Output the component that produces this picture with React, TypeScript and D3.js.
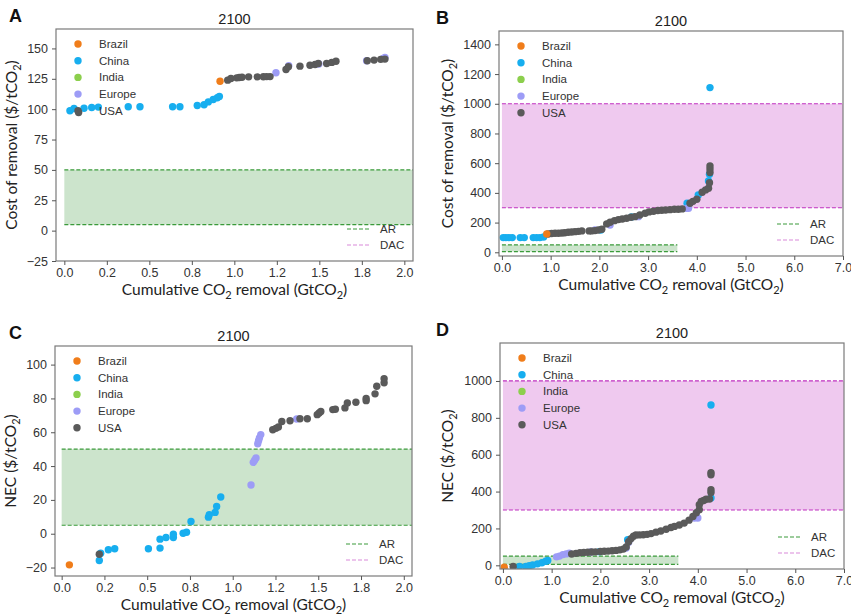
import React, { useEffect, useRef } from 'react';
import * as d3 from 'd3';

type Pt = [number, number];

const countries = ['Brazil', 'China', 'India', 'Europe', 'USA'];
const countryColors = ['#f07d1a', '#17aeef', '#8ccf4d', '#9d9cf6', '#5a5a5a'];

// A: cost of removal, 0-2 GtCO2
const brazilA: Pt[] = [[0.916, 123]];
const chinaA: Pt[] = [
  [0.033, 98.7], [0.057, 100.6], [0.116, 100.8], [0.161, 101.4], [0.2, 101.7], [0.376, 102],
  [0.445, 102], [0.637, 102], [0.68, 102], [0.782, 103], [0.822, 103.6], [0.847, 106],
  [0.876, 108], [0.9, 109.4], [0.912, 110.5],
];
const indiaA: Pt[] = [];
const europeA: Pt[] = [[1.245, 130], [1.32, 135.8], [1.497, 137.2], [1.778, 139.8], [1.876, 141.8], [1.886, 142.6]];
const usaA: Pt[] = [
  [0.084, 97.3], [0.961, 123.9], [0.98, 125.3], [1.014, 125.8], [1.029, 126.1], [1.045, 126.3],
  [1.084, 126.6], [1.135, 126.6], [1.171, 126.7], [1.19, 126.8], [1.21, 126.8], [1.304, 132.7],
  [1.318, 134.9], [1.386, 135.4], [1.445, 136.2], [1.475, 136.8], [1.494, 137.6], [1.543, 137.6],
  [1.573, 138.5], [1.598, 139.5], [1.782, 139.8], [1.822, 140.4], [1.861, 141], [1.886, 141.2],
];

// B: cost of removal, 0-7 GtCO2
const brazilB: Pt[] = [[0.92, 123]];
const chinaB: Pt[] = [
  [0.027, 98.8], [0.082, 98.8], [0.144, 98.8], [0.212, 98.8], [0.376, 98.8], [0.459, 98.8],
  [0.643, 98.8], [0.712, 98.8], [0.78, 98.8], [0.856, 103], [2.03, 150], [2.66, 238],
  [3.8, 330], [4.03, 386], [4.24, 480], [4.26, 525], [4.27, 1109],
];
const indiaB: Pt[] = [];
const europeB: Pt[] = [[1.91, 150], [2.22, 184], [2.8, 240], [3.79, 296], [3.83, 296]];
const usaB: Pt[] = [
  [0.95, 123], [1.02, 126], [1.09, 128], [1.16, 128], [1.23, 130], [1.29, 132], [1.36, 135],
  [1.43, 137], [1.5, 139], [1.57, 141], [1.64, 144], [1.79, 144], [1.84, 144], [1.91, 146],
  [1.98, 150], [2.05, 155], [2.15, 191], [2.22, 202], [2.31, 213], [2.39, 220], [2.47, 224],
  [2.56, 229], [2.65, 236], [2.73, 240], [2.83, 251], [2.94, 263], [3.02, 272], [3.11, 276],
  [3.2, 281], [3.28, 283], [3.36, 285], [3.45, 287], [3.54, 290], [3.62, 290], [3.7, 292],
  [3.86, 330], [3.92, 343], [4.0, 357], [4.11, 404], [4.18, 420], [4.24, 431], [4.26, 469],
  [4.27, 537], [4.27, 560], [4.27, 581],
];

// C: NEC, 0-2 GtCO2
const brazilC: Pt[] = [[0.045, -18.4]];
const chinaC: Pt[] = [
  [0.22, -15.8], [0.228, -11.5], [0.273, -9.5], [0.31, -8.9], [0.507, -8.9], [0.575, -8.5],
  [0.575, -3.2], [0.61, -2.2], [0.653, -2.2], [0.653, -0.3], [0.71, 0.3], [0.73, 0.9],
  [0.756, 7.2], [0.858, 9.8], [0.863, 11.2], [0.897, 12.6], [0.906, 16.1], [0.93, 21.7],
];
const indiaC: Pt[] = [];
const europeC: Pt[] = [
  [1.107, 28.8], [1.12, 42.2], [1.128, 43.5], [1.136, 44.8], [1.146, 53.2], [1.151, 55],
  [1.156, 56.6], [1.164, 58.6], [1.374, 67.8],
];
const usaC: Pt[] = [
  [0.22, -12.1], [1.234, 61.5], [1.252, 62.3], [1.267, 63.1], [1.287, 66.4], [1.335, 66.8],
  [1.393, 68], [1.436, 68], [1.494, 70.4], [1.505, 71.4], [1.515, 72.3], [1.585, 73.4],
  [1.6, 73.6], [1.656, 74.4], [1.67, 77.3], [1.72, 77.7], [1.78, 78.7], [1.78, 80],
  [1.832, 82.7], [1.842, 87.2], [1.885, 89.2], [1.885, 91.7],
];

// D: NEC, 0-7 GtCO2
const brazilD: Pt[] = [[0.027, -10]];
const chinaD: Pt[] = [
  [0.34, -6], [0.47, -6], [0.54, -2], [0.61, 2], [0.71, 8], [0.8, 14], [0.88, 22], [0.92, 26],
  [1.98, 74], [2.56, 139], [4.27, 365], [4.27, 870],
];
const indiaD: Pt[] = [];
const europeD: Pt[] = [
  [1.1, 46], [1.16, 50], [1.23, 58], [1.3, 62], [1.36, 66], [1.8, 72], [2.53, 94], [2.58, 125],
  [3.93, 256], [4.0, 257],
];
const usaD: Pt[] = [
  [0.21, -6], [1.41, 61], [1.5, 65], [1.58, 68], [1.66, 70], [1.74, 71], [1.82, 72], [1.9, 73],
  [2.0, 75], [2.08, 76], [2.16, 77], [2.24, 79], [2.32, 81], [2.4, 84], [2.47, 88], [2.53, 99],
  [2.58, 128], [2.63, 145], [2.68, 158], [2.73, 165], [2.8, 165], [2.88, 166], [2.96, 168],
  [3.04, 172], [3.14, 180], [3.24, 186], [3.35, 196], [3.45, 205], [3.52, 211], [3.62, 219],
  [3.72, 229], [3.82, 245], [3.9, 265], [3.97, 285], [4.03, 302], [4.03, 329], [4.07, 347],
  [4.12, 352], [4.17, 358], [4.24, 360], [4.27, 395], [4.27, 410], [4.27, 491], [4.27, 503],
];

const xTicksShort = [0, 0.25, 0.5, 0.75, 1, 1.25, 1.5, 1.75, 2];
const xTickLabelsShort = ['0.0', '0.2', '0.5', '0.8', '1.0', '1.2', '1.5', '1.8', '2.0'];
const xTicksLong = [0, 1, 2, 3, 4, 5, 6, 7];
const xTickLabelsLong = ['0.0', '1.0', '2.0', '3.0', '4.0', '5.0', '6.0', '7.0'];
const yTicksA = [-25, 0, 25, 50, 75, 100, 125, 150];
const yTicksB = [0, 200, 400, 600, 800, 1000, 1200, 1400];
const yTicksC = [-20, 0, 20, 40, 60, 80, 100];
const yTicksD = [0, 200, 400, 600, 800, 1000];

const arRange = [5, 50];
const arSpan = [0, 3.6];
const dacRange = [300, 1000];
const dacSpan = [0, 7.5];
const bandNames = ['AR', 'DAC'];

const panels = [
  { letter: 'A', left: 56, top: 29, right: 413, bottom: 261, xd: [-0.049, 2.051], yd: [-25, 166],
    xt: xTicksShort, xl: xTickLabelsShort, yt: yTicksA, ylab: 'Cost of removal ($/tCO', ylx: 39,
    series: [brazilA, chinaA, indiaA, europeA, usaA] },
  { letter: 'B', left: 499, top: 31, right: 843, bottom: 256, xd: [-0.06, 7.0], yd: [-25, 1490],
    xt: xTicksLong, xl: xTickLabelsLong, yt: yTicksB, ylab: 'Cost of removal ($/tCO', ylx: 46,
    series: [brazilB, chinaB, indiaB, europeB, usaB] },
  { letter: 'C', left: 55, top: 346, right: 412, bottom: 576, xd: [-0.039, 2.048], yd: [-25, 111],
    xt: xTicksShort, xl: xTickLabelsShort, yt: yTicksC, ylab: 'NEC ($/tCO', ylx: 39,
    series: [brazilC, chinaC, indiaC, europeC, usaC] },
  { letter: 'D', left: 500, top: 343, right: 844, bottom: 569, xd: [-0.06, 7.0], yd: [-20, 1206],
    xt: xTicksLong, xl: xTickLabelsLong, yt: yTicksD, ylab: 'NEC ($/tCO', ylx: 47,
    series: [brazilD, chinaD, indiaD, europeD, usaD] },
];

const drawOrder = [1, 3, 2, 4, 0];

const App: React.FC = () => {
  const svgRef = useRef<SVGSVGElement>(null);

  useEffect(() => {
    if (!svgRef.current) return;
    const svg = d3.select(svgRef.current);
    svg.selectAll('*').remove();

    const tickFont = '"Liberation Sans", Arial, sans-serif';
    const labelFont = 'Lato, "Liberation Sans", sans-serif';

    panels.forEach((p, pi) => {
      const w = p.right - p.left;
      const h = p.bottom - p.top;
      const x = d3.scaleLinear().domain(p.xd).range([0, w]);
      const y = d3.scaleLinear().domain(p.yd).range([h, 0]);
      const g = svg.append('g').attr('transform', `translate(${p.left},${p.top})`);

      const clipId = `clip-${pi}`;
      g.append('clipPath').attr('id', clipId)
        .append('rect').attr('width', w).attr('height', h);
      const plot = g.append('g').attr('clip-path', `url(#${clipId})`);

      // AR band
      plot.append('rect')
        .attr('x', x(arSpan[0])).attr('width', x(arSpan[1]) - x(arSpan[0]))
        .attr('y', y(arRange[1])).attr('height', y(arRange[0]) - y(arRange[1]))
        .attr('fill', '#cce4cc');
      arRange.forEach(v => {
        plot.append('line')
          .attr('x1', x(arSpan[0])).attr('x2', x(arSpan[1]))
          .attr('y1', y(v)).attr('y2', y(v))
          .attr('stroke', '#3a9a3a').attr('stroke-width', 1.2).attr('stroke-dasharray', '4,2');
      });
      // DAC band
      plot.append('rect')
        .attr('x', x(dacSpan[0])).attr('width', x(dacSpan[1]) - x(dacSpan[0]))
        .attr('y', y(dacRange[1])).attr('height', y(dacRange[0]) - y(dacRange[1]))
        .attr('fill', '#efc9ef');
      dacRange.forEach(v => {
        plot.append('line')
          .attr('x1', x(dacSpan[0])).attr('x2', x(dacSpan[1]))
          .attr('y1', y(v)).attr('y2', y(v))
          .attr('stroke', '#c030c0').attr('stroke-width', 1.2).attr('stroke-dasharray', '4,2');
      });

      // points
      drawOrder.forEach(ci => {
        plot.selectAll(null)
          .data(p.series[ci])
          .enter().append('circle')
          .attr('cx', d => x(d[0]))
          .attr('cy', d => y(d[1]))
          .attr('r', 3.7)
          .attr('fill', countryColors[ci]);
      });

      // frame
      g.append('rect').attr('width', w).attr('height', h)
        .attr('fill', 'none').attr('stroke', '#7a7a7a').attr('stroke-width', 1.2);

      // axes
      const xAxis = g.append('g').attr('transform', `translate(0,${h})`)
        .call(d3.axisBottom(x).tickValues(p.xt).tickSize(4).tickPadding(3)
          .tickFormat((_, i) => p.xl[i]));
      const yAxis = g.append('g')
        .call(d3.axisLeft(y).tickValues(p.yt).tickSize(4).tickPadding(4)
          .tickFormat(d => (+d < 0 ? '\u2212' + Math.abs(+d) : String(d))));
      [xAxis, yAxis].forEach(a => {
        a.select('.domain').remove();
        a.selectAll('line').attr('stroke', '#555');
        a.selectAll('text').attr('fill', '#333').style('font-family', tickFont).style('font-size', '12.5px');
      });

      // titles
      g.append('text').attr('x', w / 2).attr('y', -5).attr('text-anchor', 'middle')
        .style('font-family', tickFont).style('font-size', '14.5px').attr('fill', '#222').text('2100');
      g.append('text').attr('x', (pi % 2 === 0 ? 9 : 436) - p.left).attr('y', -7)
        .style('font-family', tickFont).style('font-size', '18px').style('font-weight', 'bold')
        .attr('fill', '#111').text(p.letter);

      // x label
      const xl = g.append('text').attr('x', w / 2).attr('y', h + 34).attr('text-anchor', 'middle')
        .style('font-family', labelFont).style('font-size', '15.5px').attr('fill', '#222');
      xl.append('tspan').text('Cumulative CO');
      xl.append('tspan').attr('dy', 4).style('font-size', '11px').text('2');
      xl.append('tspan').attr('dy', -4).text(' removal (GtCO');
      xl.append('tspan').attr('dy', 4).style('font-size', '11px').text('2');
      xl.append('tspan').attr('dy', -4).text(')');

      // y label
      const yl = g.append('text')
        .attr('transform', `translate(${-p.ylx},${h / 2}) rotate(-90)`)
        .attr('text-anchor', 'middle')
        .style('font-family', labelFont).style('font-size', '15.5px').attr('fill', '#222');
      yl.append('tspan').text(p.ylab);
      yl.append('tspan').attr('dy', 4).style('font-size', '11px').text('2');
      yl.append('tspan').attr('dy', -4).text(')');

      // country legend
      countries.forEach((c, i) => {
        const ly = 15 + i * 16.7;
        g.append('circle').attr('cx', 22).attr('cy', ly).attr('r', 3.7).attr('fill', countryColors[i]);
        g.append('text').attr('x', 43).attr('y', ly).attr('dy', '0.35em')
          .style('font-family', tickFont).style('font-size', '11.5px').attr('fill', '#333').text(c);
      });

      // band legend
      const bandColors = ['#3a9a3a', '#d98ad9'];
      bandNames.forEach((b, i) => {
        const ly = h - 32 + i * 16;
        g.append('line').attr('x1', w - 66).attr('x2', w - 43).attr('y1', ly).attr('y2', ly)
          .attr('stroke', bandColors[i]).attr('stroke-width', 1.2).attr('stroke-dasharray', '4,2');
        g.append('text').attr('x', w - 33).attr('y', ly).attr('dy', '0.35em')
          .style('font-family', tickFont).style('font-size', '11.5px').attr('fill', '#333').text(b);
      });
    });
  }, []);

  return (
    <svg ref={svgRef} width={851} height={615}
      style={{ position: 'absolute', left: 0, top: 0, background: '#fff' }} />
  );
};

export default App;
